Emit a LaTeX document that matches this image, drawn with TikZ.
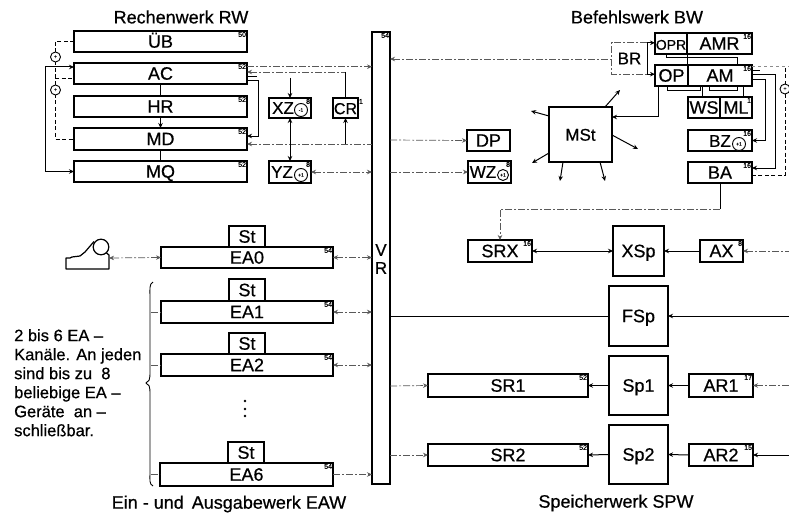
\documentclass[tikz,border=0pt]{standalone}
\usepackage{fontspec}
\setmainfont[FakeBold=0.6]{Liberation Sans}
\usetikzlibrary{arrows.meta,calc,decorations.pathreplacing}
\tikzset{
  x=1pt,y=-1pt,
  box/.style={draw=black,line width=1.3pt,inner sep=0pt,outer sep=0pt,font=\fontsize{18}{18}\selectfont},
  lab/.style={inner sep=0pt,font=\fontsize{17}{17}\selectfont},
  num/.style={inner sep=0.8pt,font=\fontsize{7}{7}\selectfont},
  title/.style={inner sep=0pt,font=\fontsize{18}{18}\selectfont},
  rnd/.style={draw=black,circle,line width=0.9pt,inner sep=0pt,minimum size=#1,fill=white,font=\fontsize{5}{5}\selectfont},
  solidl/.style={draw=black,line width=1pt},
  thinl/.style={draw=black!65,line width=0.7pt,dash pattern=on 7pt off 2pt on 2pt off 2pt},
  dotl/.style={draw=black!45,line width=0.7pt,dash pattern=on 3pt off 3pt},
  dashl/.style={draw=black,line width=1pt,dash pattern=on 4pt off 2.5pt},
  tip/.style={-{Stealth[length=5pt,width=4.5pt]}},
  tips/.style={{Stealth[length=5pt,width=4.5pt]}-{Stealth[length=5pt,width=4.5pt]}},
  pit/.style={{Stealth[length=5pt,width=4.5pt]}-},
}
% name, x1, y1, x2, y2, text, small number
\newcommand{\bx}[7]{%
  \pgfmathsetmacro{\bw}{#4-#2}\pgfmathsetmacro{\bh}{#5-#3}%
  \pgfmathsetmacro{\cxx}{(#4+#2)/2}\pgfmathsetmacro{\cyy}{(#5+#3)/2}%
  \node[box,minimum width=\bw pt,minimum height=\bh pt] (#1) at (\cxx,\cyy) {\vphantom{X}\smash{#6}};%
  \node[num,anchor=north east] (#1n) at (#1.north east) {#7};%
}
\begin{document}
\begin{tikzpicture}
\useasboundingbox (0,0) rectangle (789,516);
% Titles
\node[title] (t1) at (181,17) {Rechenwerk RW};
\node[title] (t2) at (637,17) {Befehlswerk BW};
\node[title] (t3) at (229,504) {Ein - und\, Ausgabewerk EAW};
\node[title] (t4) at (616,503) {Speicherwerk SPW};
% Rechenwerk
\bx{ub}{74}{31}{247}{52}{ÜB}{50}
\bx{ac}{74}{63}{247}{84}{AC}{52}
\bx{hr}{74}{96}{247}{117}{HR}{52}
\bx{md}{74}{128}{247}{150}{MD}{52}
\bx{mq}{74}{161}{247}{182}{MQ}{52}
\bx{xz}{269}{98}{311}{118}{}{8}
\node[lab] (xzt) at (283,108) {XZ};
\bx{cr}{333}{98}{358}{118}{\fontsize{16}{16}\selectfont CR}{}
\node[num,anchor=north west] (crn) at (cr.north east) {1};
\bx{yz}{269}{161}{311}{183}{}{8}
\node[lab] (yzt) at (282,172) {YZ};
\node[rnd=13pt] (xzc) at (301,110) {-1};
\node[rnd=13pt] (yzc) at (301,175) {+1};
% Bus
\bx{vr}{372}{32}{390}{484}{}{54}
\node[lab] (vrv) at (381,250) {V};
\node[lab] (vrr) at (381,268) {R};
% DP / WZ / MSt
\bx{dp}{467}{130}{510}{151}{DP}{}
\bx{wz}{468}{161}{511}{183}{}{8}
\node[lab] (wzt) at (483,172) {WZ};
\node[rnd=11pt] (wzc) at (503,175) {+1};
\bx{mst}{549}{107}{612}{162}{\fontsize{17}{17}\selectfont MSt}{}
% Befehlswerk
\node[lab,minimum width=35pt,minimum height=31pt] (br) at (629.5,58.5) {BR};
\draw[thinl] (br.north east) -- (br.north west) -- (br.south west) -- (br.south east);
\bx{opr}{655}{33}{687}{54}{\fontsize{14}{14}\selectfont OPR}{}
\bx{amr}{687}{33}{752}{54}{AMR}{16}
\bx{op}{655}{65}{688}{86}{OP}{}
\bx{am}{688}{65}{752}{86}{AM}{16}
\bx{ws}{688}{97}{720}{118}{WS}{}
\bx{ml}{720}{97}{752}{118}{ML}{1}
\bx{bz}{688}{130}{752}{151}{}{16}
\node[lab] (bzt) at (720,141) {BZ};
\node[rnd=13pt] (bzc) at (739,144) {+1};
\bx{ba}{688}{162}{752}{183}{BA}{16}
% Speicherwerk
\bx{srx}{468}{240}{532}{262}{SRX}{16}
\bx{xsp}{613}{226}{664}{276}{XSp}{}
\bx{ax}{700}{240}{743}{262}{AX}{8}
\bx{fsp}{609}{286}{668}{346}{FSp}{}
\bx{sp1}{609}{356}{668}{415}{Sp1}{}
\bx{sr1}{428}{374}{588}{397}{SR1}{52}
\bx{ar1}{689}{374}{753}{397}{AR1}{17}
\bx{sp2}{609}{425}{668}{484}{Sp2}{}
\bx{sr2}{428}{444}{588}{466}{SR2}{52}
\bx{ar2}{689}{444}{753}{466}{AR2}{15}
% EA
\bx{st0}{229}{226}{265}{247}{St}{}
\bx{ea0}{161}{247}{333}{268}{EA0}{54}
\bx{st1}{229}{279}{265}{301}{St}{}
\bx{ea1}{161}{301}{333}{323}{EA1}{54}
\bx{st2}{229}{333}{265}{354}{St}{}
\bx{ea2}{161}{354}{333}{376}{EA2}{54}
\bx{st6}{228}{442}{264}{463}{St}{}
\bx{ea6}{160}{463}{333}{486}{EA6}{54}
% dots
\fill (245,401) circle (1.4pt) (245,409) circle (1.4pt) (245,416) circle (1.4pt);
% Free ends
\coordinate (lft) at (55,0);
\coordinate (sol) at (45,0);
\coordinate (rgt) at (789,0);
\coordinate (e1) at (151,0);
% RW left side
\draw[dashl] (ub.west) -- (lft |- ub.west) -- (lft |- md.west) -- (md.west);
\draw[dashl] (lft |- 0,79) -- (ac.west |- 0,79);
\draw[solidl,tips] (ac.west |- 0,67) -- (sol |- 0,67) -- (sol |- mq.west) -- (mq.west);
\node[rnd=10pt,font=\fontsize{6}{6}\selectfont] (c1) at (55.5,57) {+};
\node[rnd=10pt,font=\fontsize{6}{6}\selectfont] (c2) at (55.5,90) {+};
% RW verticals
\draw[solidl] (ac.south) -- (hr.north);
\draw[solidl,tip] (hr.south) -- (md.north);
\draw[solidl] (md.south) -- (mq.north);
% RW right side
\draw[thinl,tip] (ac.east |- 0,66.7) -- (vr.west |- 0,66.7);
\draw[thinl,pit] (ac.east |- 0,72) -- (cr.north |- 0,72);
\draw[solidl] (ac.east |- 0,77) -- (257,77);
\draw[solidl,tip] (ac.east |- 0,81) -- (258,81) -- (258,136) -- (md.east |- 0,136);
\draw[thinl,pit] (md.east |- 0,144) -- (vr.west |- 0,144);
\draw[solidl,tip] (xz.north |- 0,78) -- (xz.north);
\draw[solidl,tips] (xz.south) -- (yz.north);
\draw[solidl] (cr.north |- 0,72) -- (cr.north);
\draw[solidl,pit] (cr.south) -- (cr.south |- 0,144);
\draw[thinl,tips] (yz.east |- 0,172) -- (vr.west |- 0,172);
% Bus right
\draw[thinl,pit] (vr.east |- 0,59) -- (br.west |- 0,59);
\draw[thinl,tip] (vr.east |- 0,140) -- (dp.west);
\draw[thinl,tip] (vr.east |- 0,172) -- (wz.west);
\draw[solidl] (vr.east |- 0,316) -- (fsp.west);
\draw[thinl,tip] (vr.east |- 0,386) -- (sr1.west);
\draw[thinl,tip] (vr.east |- 0,455) -- (sr2.west);
% MSt arrows
\coordinate (m1) at (620,90); \coordinate (m2) at (531,111);
\coordinate (m3) at (638,149); \coordinate (m4) at (532,163);
\coordinate (m5) at (560,181); \coordinate (m6) at (605,181);
\draw[solidl,tip] (605,107) -- (m1);
\draw[solidl,tip] (549,116) -- (m2);
\draw[solidl,tip] (612,135) -- (m3);
\draw[solidl,tip] (549,153) -- (m4);
\draw[solidl,tip] (563,162) -- (m5);
\draw[solidl,tip] (600,162) -- (m6);
% BR
\draw[solidl] (br.north east) -- (br.south east);
\draw[solidl,tip] (br.north east) -- (opr.west |- br.north);
\draw[solidl,tip] (br.south east) -- (op.west |- br.south);
% BW internal
\draw[line width=1pt] (666,54) -- (666,58) -- (737,58) -- (737,65);
\draw[line width=1pt] (687,54) -- (687,65);
\draw[line width=1pt] (667,86) -- (667,91) -- (700,91) -- (700,86);
\draw[line width=1pt] (709,86) -- (709,91) -- (737,91) -- (737,86);
\draw[line width=1pt] (702,86) -- (702,97);
\draw[line width=1pt] (743,86) -- (743,97);
\draw[solidl,tip] (658,86) -- (658,117) -- (mst.east |- 0,117);
% AM right side
\coordinate (v1) at (785,0); \coordinate (v2) at (775,0); \coordinate (v3) at (765,0);
\draw[dotl] (am.east |- 0,66.7) -- (rgt |- 0,66.7);
\draw[solidl] (am.east |- 0,71) -- (760,71);
\draw[solidl,tip] (am.east |- 0,75) -- (v2 |- 0,75) -- (v2 |- 0,168) -- (ba.east |- 0,168);
\draw[solidl,tip] (am.east |- 0,80) -- (v3 |- 0,80) -- (v3 |- bz.east) -- (bz.east);
\draw[dashl] (v1 |- 0,68) -- (v1 |- 0,175) -- (ba.east |- 0,175);
\node[rnd=10pt,font=\fontsize{6}{6}\selectfont] (c3) at (785,89) {+};
% BA to SRX
\coordinate (bs1) at (721,209);
\draw[solidl] (ba.south) -- (ba.south |- bs1);
\draw[thinl,tip] (ba.south |- bs1) -- (srx.north |- bs1) -- (srx.north);
% Store rows
\draw[solidl,tips] (srx.east) -- (xsp.west);
\draw[solidl,pit] (xsp.east) -- (ax.west);
\draw[thinl,pit] (ax.east) -- (rgt |- ax.east);
\draw[solidl,pit] (fsp.east) -- (rgt |- fsp.east);
\draw[solidl,pit] (sr1.east) -- (sp1.west);
\draw[solidl,pit] (sp1.east) -- (ar1.west);
\draw[thinl,pit] (ar1.east) -- (rgt |- ar1.east);
\draw[solidl,pit] (sr2.east) -- (sp2.west);
\draw[solidl,pit] (sp2.east) -- (ar2.west);
\draw[solidl,pit] (ar2.east) -- (rgt |- ar2.east);
% EA to bus
\draw[thinl,tips] (ea0.east) -- (vr.west |- ea0.east);
\draw[thinl,tips] (ea1.east) -- (vr.west |- ea1.east);
\draw[thinl,tips] (ea2.east) -- (vr.west |- ea2.east);
\draw[thinl,tip] (ea6.east) -- (vr.west |- ea6.east);
\draw[thinl] (e1 |- ea1.west) -- (ea1.west);
\draw[thinl] (e1 |- ea2.west) -- (ea2.west);
\draw[thinl] (e1 |- ea6.west) -- (ea6.west);
% Typewriter
\draw[line width=1.2pt,line join=round] (94,241.5) -- (85,252) -- (80,256) -- (72,257) -- (70,258) -- (66,258) -- (66,269) -- (109,269) -- (109,255) -- (106.5,253);
\draw[line width=1.2pt] (101,247) circle (7.8pt);
\coordinate (tw) at (109,258);
\draw[thinl,tips] (tw) -- (ea0.west);
% Brace
\draw[line width=0.9pt] (153,282) .. controls (149,284) and (150,290) .. (150,296) -- (150,372) .. controls (150,380) and (149,382) .. (146,383) .. controls (149,384) and (150,386) .. (150,394) -- (150,472) .. controls (150,480) and (149,484) .. (153,486);
% Left text
\node[inner sep=0pt,anchor=north west,align=left,font=\fontsize{16.5}{19}\selectfont] (txt) at (14,329) {2 bis 6 EA --\\Kanäle. An jeden\\sind bis zu\; 8\\beliebige EA --\\Geräte\; an --\\schließbar.};
\end{tikzpicture}
\end{document}
